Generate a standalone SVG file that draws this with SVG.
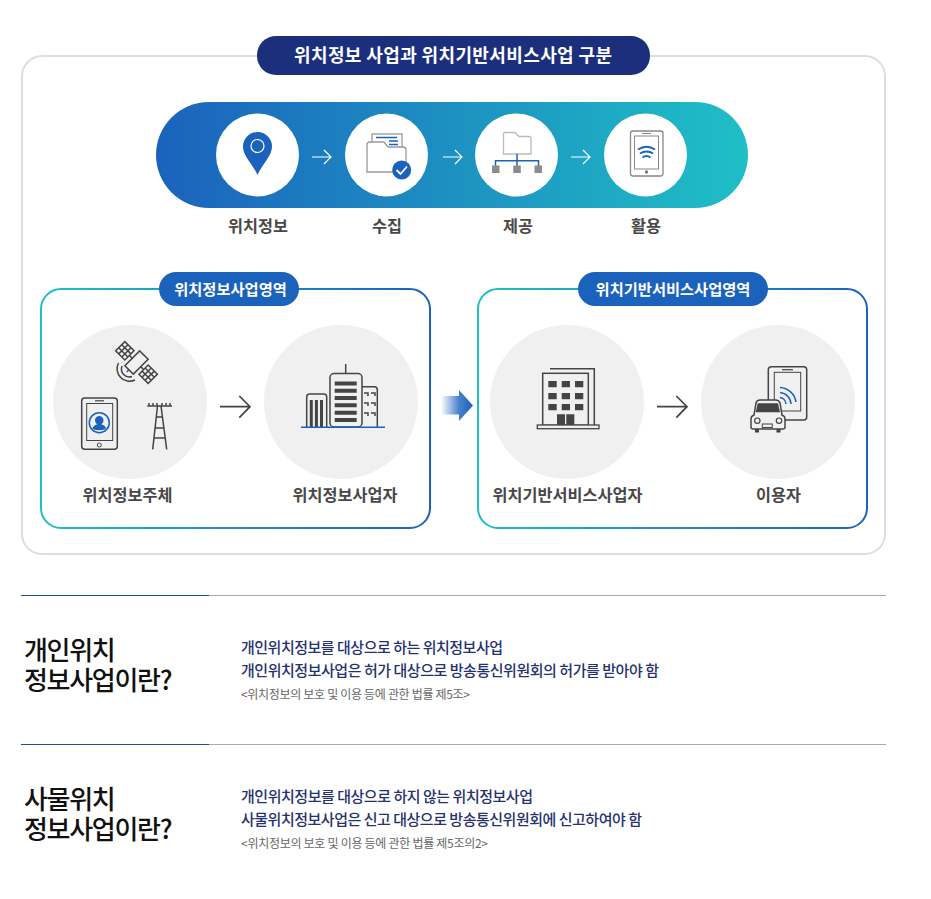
<svg xmlns="http://www.w3.org/2000/svg" width="931" height="899" viewBox="0 0 931 899">
<style>
text{font-family:"Noto Sans CJK KR","Noto Sans",sans-serif}
.t{font-weight:700;font-size:16.3px;fill:#484848;text-anchor:middle}
.w{font-weight:700;fill:#fff;text-anchor:middle}
.h{font-size:26px;font-weight:500;fill:#111;letter-spacing:-1.3px}
.b{font-size:15px;font-weight:500;fill:#263170}
.s{font-size:12px;fill:#666}
.dk{fill:none;stroke:#444;stroke-width:1.5}
.bl{fill:none;stroke:#1b62bd;stroke-width:1.5}
.df{fill:#444}
.wa{fill:none;stroke:#fff;stroke-width:1.2}
.da{fill:none;stroke:#444;stroke-width:1.7}
.c{fill:#f0f0f0}
</style>
<defs>
<linearGradient id="band" x1="0" y1="0" x2="1" y2="0"><stop offset="0" stop-color="#1b62bd"/><stop offset="1" stop-color="#1fbfc6"/></linearGradient>
<linearGradient id="bd1" gradientUnits="userSpaceOnUse" x1="41" y1="400" x2="430" y2="400"><stop offset="0" stop-color="#1fbfc6"/><stop offset="1" stop-color="#1b62bd"/></linearGradient>
<linearGradient id="bd2" gradientUnits="userSpaceOnUse" x1="478" y1="400" x2="867" y2="400"><stop offset="0" stop-color="#1fbfc6"/><stop offset="1" stop-color="#1b62bd"/></linearGradient>
<linearGradient id="ar" gradientUnits="userSpaceOnUse" x1="442" y1="0" x2="473" y2="0"><stop offset="0" stop-color="#1b62bd" stop-opacity=".05"/><stop offset=".55" stop-color="#1b62bd" stop-opacity=".8"/><stop offset="1" stop-color="#1b62bd"/></linearGradient>
</defs>
<rect width="931" height="899" fill="#fff"/>
<rect x="22" y="56" width="863" height="498" rx="20" fill="none" stroke="#ddd" stroke-width="2"/>

<g id="title"><rect x="257" y="36" width="393" height="39" rx="19" fill="#1c2f7d"/>
<text class="w" x="453" y="61.500" font-size="18" textLength="318">위치정보 사업과 위치기반서비스사업 구분</text></g>

<rect id="band-bg" x="156" y="102" width="592" height="106" rx="53" fill="url(#band)"/>

<g id="step-location">
<circle cx="257.500" cy="155" r="41.500" fill="#fff"/>
<path d="M257.500 175C252 163 243 156 243 146.500A14.500 14.500 0 0 1 272 146.500C272 156 263 163 257.500 175Z" fill="#1b62bd"/>
<circle cx="257.500" cy="146" r="6.500" fill="none" stroke="#fff" stroke-width="1.200"/>
<text class="t" x="258" y="231.500">위치정보</text></g>

<g id="step-collect">
<circle cx="386.500" cy="155" r="41.500" fill="#fff"/>
<rect x="372" y="134" width="30" height="20" fill="#fff" stroke="#999" stroke-width="1.300"/>
<path d="M376 137.500H397M389 141H398M389 144.500H398M392 148H398" class="bl" stroke-width="1.200"/>
<path d="M367 172V145Q367 142 370 142H384L388 147H403Q406 147 406 150V172Z" fill="#fff" stroke="#999" stroke-width="1.300"/>
<circle cx="401.700" cy="170" r="9.500" fill="#1b62bd"/>
<path d="M396.500 170L400.500 174L407 166.500" fill="none" stroke="#fff" stroke-width="1.800"/>
<text class="t" x="387" y="231.500">수집</text></g>

<g id="step-provide">
<circle cx="516.500" cy="155" r="41.500" fill="#fff"/>
<path d="M503.500 154V134Q503.500 132.500 505 132.500H515L519 136.500H529Q531 136.500 531 138V154Z" fill="#fff" stroke="#bbb" stroke-width="1.300"/>
<path d="M517 154V167M495.500 167V160.700H538.500V167" class="bl"/>
<path d="M492 165.500h7.500v7.500h-7.500zM513.300 165.500h7.500v7.500h-7.500zM534.500 165.500h7.500v7.500h-7.500z" fill="#8c8c8c"/>
<text class="t" x="518" y="231.500">제공</text></g>

<g id="step-use">
<circle cx="645.500" cy="155" r="41.500" fill="#fff"/>
<rect x="630.500" y="131" width="32.500" height="45" rx="2.500" fill="#fff" stroke="#888" stroke-width="1.300"/>
<rect x="634.500" y="136" width="24" height="33" fill="none" stroke="#888" stroke-width="1"/>
<path d="M642 133.500H651" stroke="#888" stroke-width="1"/>
<circle cx="646.500" cy="172" r="1.700" fill="#777"/>
<path d="M638 149.500Q646.500 144 655 149.500M640 153.500Q646.500 149.500 653 153.500M642.500 157.500Q646.500 154.500 650.500 157.500" fill="none" stroke="#1b62bd" stroke-width="2"/>
<text class="t" x="646" y="231.500">활용</text></g>

<g id="zone-left"><rect x="41" y="289" width="389" height="239" rx="20" fill="none" stroke="url(#bd1)" stroke-width="2"/>
<rect x="159" y="272" width="140" height="34" rx="17" fill="#1b62bd"/>
<text class="w" x="230.500" y="294.500" font-size="15.300">위치정보사업영역</text></g>

<g id="zone-right"><rect x="478" y="289" width="389" height="239" rx="20" fill="none" stroke="url(#bd2)" stroke-width="2"/>
<rect x="578" y="272" width="190" height="34" rx="17" fill="#1b62bd"/>
<text class="w" x="673" y="294.500" font-size="15.300">위치기반서비스사업영역</text></g>

<g id="node-subject">
<circle class="c" cx="130" cy="402" r="77"/>
<path d="M118.500 363A12.500 12.500 0 0 0 135 380M122 366A8 8 0 0 0 132 376.500" class="dk"/>
<path d="M126.700 372L129 369.500" class="bl"/>
<g transform="translate(136.500 362.500) rotate(45)">
<path d="M-10 0H10" class="dk"/>
<rect x="-6" y="-10.500" width="12" height="21" fill="#f0f0f0" stroke="#444" stroke-width="1.500"/>
<g class="dk" stroke-width="1.200"><rect x="-23" y="-6.500" width="13" height="13"/><rect x="10" y="-6.500" width="13" height="13"/>
<path d="M-18.700 -6.500v13M-14.300 -6.500v13M-23 -2.200h13M-23 2.200h13M14.300 -6.500v13M18.700 -6.500v13M10 -2.200h13M10 2.200h13"/></g></g>
<rect x="81.700" y="398" width="35.600" height="51.300" rx="3" fill="none" stroke="#444" stroke-width="1.500"/>
<rect x="86.700" y="403.500" width="26" height="37" fill="none" stroke="#444" stroke-width="1"/>
<path d="M95 400.800H104" stroke="#444" stroke-width="1.200"/>
<circle cx="99.300" cy="445" r="2" fill="none" stroke="#444"/>
<circle cx="99.300" cy="422.700" r="10" fill="none" stroke="#1b62bd" stroke-width="1.500"/>
<path d="M92.500 429Q93 425 97 424.500Q94.500 422.500 95 419.500Q96 416 99.300 416Q102.500 416 103.500 419.500Q104 422.500 101.500 424.500Q105.500 425 106 429Q99 431.500 92.500 429Z" fill="#1b62bd"/>
<path d="M147.300 406H172M149 403v3M153 403v3M157 403v3M162 403v3M166 403v3M170 403v3M157.500 406L152.700 449.300M161 406L166.700 449.300M156 417H162.500M154.500 428H164M153.500 438H165.500" class="dk"/>
<text class="t" x="127.500" y="500.500">위치정보주체</text></g>

<g id="node-provider">
<circle class="c" cx="341" cy="402" r="77"/>
<path d="M345.700 364V373.500" class="dk"/>
<rect x="330" y="373.500" width="32" height="53.500" rx="4" fill="none" stroke="#444" stroke-width="1.500"/>
<path d="M334.700 381.500h22v4h-22zM334.700 388.800h22v4h-22zM334.700 396h22v4h-22zM334.700 403.300h22v4h-22zM334.700 410.700h22v4h-22zM334.700 418h22v4h-22z" class="df"/>
<path d="M306.700 427V397Q306.700 394 309.700 394H323.700Q326.700 394 326.700 397V427" class="dk"/>
<path d="M309.800 400h3v27h-3zM314.900 400h3v27h-3zM320 400h3v27h-3z" class="df"/>
<path d="M362 386.700H374.300Q377.300 386.700 377.300 389.700V427" class="dk"/>
<path d="M364 393H368V396M371 393H375V396M364 403H368V406M371 403H375V406M364 413H368V416M371 413H375V416" class="dk" stroke-width="1.200"/>
<path d="M301 427.200H385" class="bl" stroke-width="1.800"/>
<text class="t" x="345" y="500.500">위치정보사업자</text></g>

<g id="node-lbs">
<circle class="c" cx="567" cy="402" r="77"/>
<path d="M550 368.700H594.300V425" class="dk"/>
<rect x="542.700" y="373.300" width="45.600" height="52" fill="none" stroke="#444" stroke-width="1.500"/>
<path d="M548.300 381h8.400v6.300h-8.400zM561.700 381h8.300v6.300h-8.300zM575 381h8.300v6.300h-8.300zM548.300 393h8.400v6.300h-8.400zM561.700 393h8.300v6.300h-8.300zM575 393h8.300v6.300h-8.300zM548.300 404h8.400v6.300h-8.400zM561.700 404h8.300v6.300h-8.300zM575 404h8.300v6.300h-8.300zM557 414.300h8v10.700h-8zM566.300 414.300h8v10.700h-8z" class="df"/>
<rect x="537.300" y="425" width="61.700" height="3.700" fill="#f0f0f0" stroke="#444" stroke-width="1.300"/>
<text class="t" x="567.500" y="500.500">위치기반서비스사업자</text></g>

<g id="node-user">
<circle class="c" cx="778" cy="402" r="77"/>
<rect x="768.300" y="366.700" width="38.400" height="53.300" rx="3" fill="none" stroke="#444" stroke-width="1.500"/>
<rect x="774.300" y="372.300" width="26.400" height="38.700" fill="none" stroke="#444" stroke-width="1"/>
<path d="M782 369.700H793" stroke="#444" stroke-width="1.200"/>
<path d="M780 397.500A7 7 0 0 1 786 404M780 392.500A12 12 0 0 1 791 404M780 387.500A17 17 0 0 1 796 402" class="bl" stroke-width="1.200"/>
<path d="M751 427.300V419Q751 415.700 754 415.200L756 403Q756.700 400 760 400H775.500Q779 400 780 403L782 415.200Q785 415.700 785 419V427.300Q785 429 783 429H753Q751 429 751 427.300Z" fill="#f0f0f0" stroke="#444" stroke-width="1.500"/>
<path d="M757.700 403.300H778L780 412.300H755.700Z" class="df"/>
<circle cx="757.300" cy="420.700" r="2.700" fill="none" stroke="#444" stroke-width="1.200"/>
<circle cx="779" cy="420.700" r="2.700" fill="none" stroke="#444" stroke-width="1.200"/>
<rect x="762.300" y="424" width="10" height="3.500" fill="none" stroke="#444"/>
<path d="M755 429h4v3.500h-4zM776.500 429h4v3.500h-4z" class="df"/>
<text class="t" x="778.500" y="500.500">이용자</text></g>

<g id="connectors">
<path class="wa" d="M312 157H331M324 150L331 157L324 164"/>
<path class="wa" d="M443 157H462M455 150L462 157L455 164"/>
<path class="wa" d="M571 157H590M583 150L590 157L583 164"/>
<path class="da" d="M220 406.700H250M239.300 396L250 406.700L239.300 417.700"/>
<path class="da" d="M657 406.700H687M676.300 396L687 406.700L676.300 417.700"/>
<path fill="url(#ar)" d="M442 396H459V390L473 405.500L459 421V414.500H442Z"/>
</g>

<g id="section-personal">
<path d="M21 595.500H209" stroke="#1a5299" stroke-width="1"/><path d="M209 595.500H886" stroke="#aaa" stroke-width="1"/>
<text class="h"><tspan x="24" y="660">개인위치</tspan><tspan x="24" y="690">정보사업이란?</tspan></text>
<text class="b" x="241" y="652.500" textLength="262">개인위치정보를 대상으로 하는 위치정보사업</text>
<text class="b" x="241" y="675.500" textLength="418">개인위치정보사업은 허가 대상으로 방송통신위원회의 허가를 받아야 함</text>
<text class="s" x="241" y="698.500" textLength="229">&lt;위치정보의 보호 및 이용 등에 관한 법률 제5조&gt;</text>
</g>

<g id="section-iot">
<path d="M21 744.500H209" stroke="#1a5299" stroke-width="1"/><path d="M209 744.500H886" stroke="#aaa" stroke-width="1"/>
<text class="h"><tspan x="24" y="809">사물위치</tspan><tspan x="24" y="839">정보사업이란?</tspan></text>
<text class="b" x="241" y="801.500" textLength="292">개인위치정보를 대상으로 하지 않는 위치정보사업</text>
<text class="b" x="241" y="824.500" textLength="401">사물위치정보사업은 신고 대상으로 방송통신위원회에 신고하여야 함</text>
<text class="s" x="241" y="847.500" textLength="247">&lt;위치정보의 보호 및 이용 등에 관한 법률 제5조의2&gt;</text>
</g>
</svg>
